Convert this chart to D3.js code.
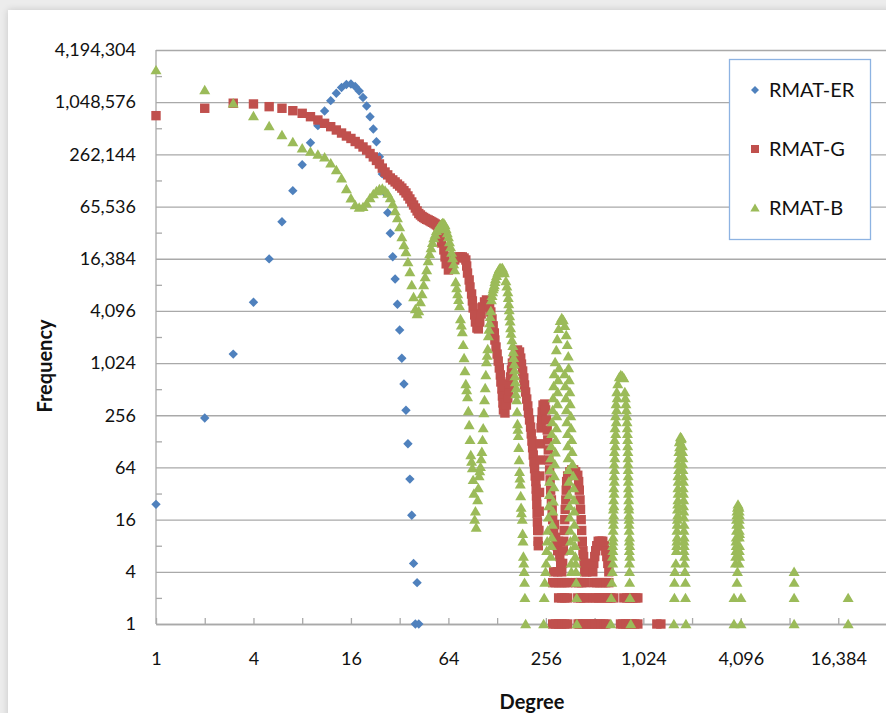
<!DOCTYPE html>
<html>
<head>
<meta charset="utf-8">
<script src="https://cdn.jsdelivr.net/npm/d3@7"></script>
<style>
  html, body { margin: 0; padding: 0; background: #ececec; overflow: hidden; }
  #card { position: absolute; left: 8px; top: 10px; width: 900px; height: 720px; background: #fff; box-shadow: 0 0 7px rgba(0,0,0,0.16); }
  svg { position: absolute; left: 0; top: 0; }
  text { font-family: Lato, "Open Sans", sans-serif; fill: #111; }
</style>
</head>
<body>
<div id="card"></div>
<svg id="chart" width="886" height="713"></svg>
<script>
// Tick labels (powers of 4 on both axes)
const xTickLabels = [1, 4, 16, 64, 256, 1024, 4096, 16384];
const yTickLabels = [1, 4, 16, 64, 256, 1024, 4096, 16384, 65536, 262144, 1048576, 4194304];
const xMinorTicks = [2, 8, 32, 128, 512, 2048, 8192, 32768];
const yMinorTicks = [2, 8, 32, 128, 512, 2048, 8192, 32768, 131072, 524288, 2097152];

// [degree, frequency]
const rmatER = [[1,24],[2,238],[3,1300],[4,5150],[5,16300],[6,43800],[7,100000],[8,199000],[9,357000],[10,562000],
  [11,830000],[12,1092000],[13,1328000],[14,1549000],[15,1678000],[16,1701000],[17,1592000],[18,1412000],[19,1188000],
  [20,948000],[21,713000],[22,515000],[23,367000],[24,246000],[25,156000],[26,94000],[27,55700],[28,32200],[29,17300],
  [30,9560],[31,4890],[32,2470],[33,1163],[34,588],[35,292],[36,120],[37,47],[38,18],[39,5],[40,1],[41,3],[42,1]];

const rmatG = [[1,733000],[2,892000],[3,1020000],[4,1000000],[5,931000],[6,892000],[7,836000],[8,780000],[9,713000],
  [10,653000],[11,598000],[12,547000],[13,501000],[14,462000],[15,427000],[16,400000],[17,369000],[18,345000],[19,319000],
  [20,294000],[21,268000],[22,245000],[23,223000],[24,203000],[25,182000],[26,164000],[27,152000],[28,140000],[29,133000],
  [30,126000],[31,119000],[32,113000],[33,107000],[34,100000],[35,94000],[36,86800],[37,80100],[38,74000],[39,68300],
  [40,63000],[41,58300],[42,54500],[43,52400],[44,50300],[45,49000],[46,47700],[47,46700],[48,45900],[49,45000],
  [50,44000],[51,43100],[52,42300],[53,41300],[54,40300],[55,39200],[56,38100],
  [57,30000],[58,24900],[60,20700],[61,17200],[62,14300],[64,12150],
  [66,12800],[68,14300],[70,15850],[72,16900],[74,17200],[76,17200],[78,17200],[80,16700],[82,15850],
  [83,13500],[84,11200],[86,9320],[87,7730],[89,6420],[90,5340],[91,4430],[93,3680],[94,3050],[96,2600],[98,2540],
  [100,3050],[102,3780],[104,4550],[107,5200],[110,5480],[113,5340],[115,4800],
  [117,3980],[119,3310],[121,2750],[123,2280],[124,1890],[126,1570],[128,1300],[130,1080],[132,900],[134,747],
  [135,620],[137,515],[138,427],[139,355],[140,295],[143,272],
  [146,336],[149,405],[151,488],[153,588],[155,708],[157,853],[159,1025],[163,1200],[166,1375],[171,1450],[176,1375],
  [179,1170],[181,998],[184,830],[187,690],[189,573],[192,475],[195,394],[198,328],[200,272],[203,226],[206,187],
  [208,156],[210,129],[212,108],[214,89],[216,74],[218,62],[220,51],[222,44],[223,36],[224,30],[225,24],[226,19],
  [227,15],[228,12],[229,9],[230,8],
  [232,12],[233,20],[234,33],[235,51],[236,78],[237,120],[239,183],[241,226],[243,280],[246,336],[252,345],
  [255,295],[258,226],[261,173],[263,133],[265,102],[267,78],[270,60],[272,46],[274,35],[277,27],[280,21],[282,16],
  [286,12],[290,14],[294,10],[298,8],[303,7],[307,9],[312,6],[316,5],[321,4],[325,5],
  [328,7],[330,9],[332,12],[335,16],[337,21],[340,27],[342,35],[344,44],[349,51],[360,57],[370,60],[380,60],[391,57],[403,52],
  [408,44],[412,35],[416,27],[419,21],[423,16],[426,12],[430,9],[434,7],[438,6],[441,5],[445,4],[452,5],[458,4],
  [499,4],[506,5],[513,6],[520,7],[528,8],[539,9],[551,9],[563,9],[575,9],[588,8],[600,7],[609,6],[618,5],[627,4],
  [286,4],[303,4],
  [282,3],[294,3],[307,3],[321,3],[335,3],[349,3],[391,3],[408,3],[426,3],[445,3],[506,3],[528,3],[551,3],[575,3],[600,3],[627,3],
  [307,2],[321,2],[335,2],[349,2],[403,2],[420,2],[439,2],[458,2],[499,2],[520,2],[543,2],[567,2],[592,2],[618,2],
  [645,2],[673,2],[776,2],[810,2],[845,2],[882,2],[920,2],[947,2],
  [282,1],[294,1],[307,1],[321,1],[335,1],[349,1],[405,1],[414,1],[432,1],[451,1],[471,1],[492,1],[513,1],
  [535,1],[559,1],[583,1],[600,1],[740,1],[765,1],[798,1],[833,1],[869,1],[907,1],[947,1],
  [1241,1],[1314,1]];

const rmatB = [[1,2460000],[2,1450000],[3,1020000],[4,727000],[5,557000],[6,439000],[7,364000],[8,308000],[9,282000],
  [10,261000],[11,243000],[12,207000],[13,173000],[14,139000],[15,104500],[16,81700],[17,68300],[18,63900],[19,64900],
  [20,71400],[21,82300],[22,91500],[23,99100],[24,104500],[25,105900],[26,100400],[27,92800],[28,82300],[29,70100],
  [30,58300],[31,48300],[32,38100],[33,29200],[34,23600],[35,19600],[36,15000],[37,11500],[38,8160],[39,5930],
  [40,4310],[41,3780],[42,4090],[43,5200],[44,6420],[45,8160],[46,10100],[47,12150],[48,15400],[49,18600],
  [50,21800],[51,25000],[52,28400],[53,31200],[54,34300],[55,36000],[56,38100],[57,40000],[58,41300],[59,42500],[60,42000],
  // first lobe, falling side
  [61,40000],[62,36100],[63,32500],[64,29200],[65,25600],[66,22400],[67,19300],[68,16700],[69,14200],[70,12150],
  [71,8840],[72,7500],[73,6420],[74,5500],[75,4670],[76,3310],[77,2800],[78,2340],[79,1660],[80,1170],[81,830],[82,588],
  [83,500],[84,416],[85,287],[86,198],[87,133],[88,89],[89,75],[90,63],[91,46],[92,32],[93,16],[94,20],[95,13],
  // second lobe
  [97,27],[98,37],[99,51],[100,58],[101,65],[102,80],[103,97],[104,133],[105,182],[106,272],[107,384],[108,528],
  [109,747],[110,1053],[111,1250],[112,1490],[113,2100],[114,2500],[115,2970],[116,3500],[117,4090],[118,5480],
  [119,6100],[120,6770],[121,7300],[122,7700],[123,8160],[124,8900],[125,9570],[127,10400],[129,11200],[130,11700],
  [132,12500],[133,12700],[135,12800],
  [138,12800],[140,12000],[142,11200],[145,9070],[147,7900],[149,6770],[150,5800],[151,4930],[152,4200],[153,3580],
  [154,3100],[155,2600],[156,2250],[158,1890],[160,1620],[161,1375],[162,1180],[163,998],[164,850],[165,727],
  [166,620],[167,450],[168,528],[169,384],[170,280],[171,203],[172,175],[173,148],[174,108],[175,78],[176,57],[177,48],
  [178,41],[179,30],[180,22],[181,19],[183,16],[184,11],[185,9],[186,6],[187,5],[188,4],[189,3],[190,2],[192,1],
  // third lobe
  [248,1],[250,2],[252,3],[255,4],[257,5],[259,7],[261,9],[263,12],[265,17],[267,23],[269,31],[270,44],[272,60],
  [274,82],[276,113],[278,156],[280,214],[282,295],[284,405],[286,557],[288,767],[292,1053],[297,1450],[301,1940],
  [307,2540],[314,3140],[321,3400],
  [275,6],[277,8],[279,10],[281,14],[283,20],[285,26],[287,38],[289,51],[291,70],[293,96],[295,133],[298,182],
  [299,251],[302,345],[303,475],[305,654],[309,900],
  [328,3220],[335,2750],[342,2160],[347,1660],[352,1230],[354,900],[357,654],[360,475],[362,345],[365,251],[367,182],
  [370,133],[372,97],[375,70],[378,51],[380,37],[382,27],[383,20],[384,14],[386,10],[387,8],[389,6],[391,5],[393,4],
  [394,3],[397,2],[398,1],
  [334,767],[337,557],[340,405],[343,295],[345,214],[348,156],[349,113],[351,82],[353,60],[355,44],[356,31],[358,23],
  [359,17],[361,12],[363,9],[364,7],[366,5],[368,4],
  // fourth lobe
  [645,1],[648,2],[654,3],[659,4],[663,5],[664,7],[665,9],[667,12],[668,16],[669,21],[671,27],[673,37],[675,51],
  [677,70],[679,97],[681,133],[685,182],[690,251],[695,345],[702,475],[712,588],[728,708],[743,747],
  [660,6],[662,8],[666,10],[670,14],[672,18],[674,23],[676,32],[678,44],[680,60],[683,82],[687,113],[692,156],
  [697,214],[700,295],[706,405],
  [760,727],[776,690],[787,475],[799,345],[808,251],[815,182],[819,133],[822,97],[824,70],[826,51],[828,37],[831,27],
  [834,21],[835,16],[837,12],[838,9],[839,7],[840,5],[841,4],[843,3],[846,2],[857,1],
  [793,405],[804,295],[812,214],[817,156],[820,113],[823,82],[825,60],[827,44],[829,32],[832,23],[833,18],[836,14],
  [842,10],[844,8],[845,6],
  // fifth lobe
  [1581,1],[1593,2],[1594,3],[1604,4],[1627,5],[1639,7],[1650,9],[1651,12],[1662,16],[1663,21],[1674,27],[1675,37],
  [1676,51],[1686,70],[1698,97],[1710,126],[1735,144],[1760,140],[1785,113],[1798,82],[1799,60],[1811,44],[1812,32],
  [1813,23],[1824,17],[1825,12],[1826,9],[1827,7],[1837,5],[1850,4],[1864,3],[1865,2],[1877,1],
  [1645,8],[1656,10],[1657,14],[1668,18],[1669,24],[1680,32],[1681,44],[1692,60],[1704,82],[1716,110],[1722,128],
  [1748,136],[1790,97],[1795,70],[1805,51],[1806,37],[1818,27],[1819,20],[1830,14],[1831,10],[1832,8],[1842,6],
  // sixth lobe
  [3717,1],[3718,2],[3797,5],[3824,7],[3825,9],[3852,12],[3853,16],[3879,3],[3880,20],[3907,4],[3935,24],[3992,22],
  [3993,5],[4020,18],[4021,14],[4022,11],[4023,8],[4024,6],[4107,2],[4108,1],
  [3810,6],[3838,8],[3839,10],[3866,14],[3867,18],[3905,22],[3960,23],[4005,20],[4008,16],[4009,12],[4010,10],[4011,7],
  // seventh and eighth lobes
  [8741,4],[8742,3],[8743,2],[8744,1],
  [18856,2],[18860,1]];

const seriesNames = ["RMAT-ER", "RMAT-G", "RMAT-B"];
const seriesColors = ["#4f81bd", "#c0504d", "#9bbb59"];

// marker shapes (Excel style)
const shapes = {
  diamond: "M0,-4.7L4.7,0L0,4.7L-4.7,0Z",
  square: "M-4.7,-4.7h9.4v9.4h-9.4Z",
  triangle: "M0,-5.2L5.5,4.2L-5.5,4.2Z"
};
const series = [
  { name: seriesNames[0], data: rmatER, color: seriesColors[0], shape: shapes.diamond },
  { name: seriesNames[1], data: rmatG, color: seriesColors[1], shape: shapes.square },
  { name: seriesNames[2], data: rmatB, color: seriesColors[2], shape: shapes.triangle }
];

const plot = { left: 156, top: 50, right: 887, bottom: 624 };
const svg = d3.select("#chart");

const x = d3.scaleLog().base(2).domain([1, 32768]).range([plot.left, plot.right]);
const y = d3.scaleLog().base(2).domain([1, 4194304]).range([plot.bottom, plot.top]);

const gridColor = "#a9a9a9";

// horizontal gridlines + y labels
const yAxis = svg.append("g")
  .attr("transform", `translate(${plot.left},0)`)
  .call(d3.axisLeft(y).tickValues(yTickLabels).tickFormat(d3.format(","))
    .tickSize(-(plot.right - plot.left)).tickSizeOuter(0).tickPadding(20));
yAxis.select(".domain").remove();
yAxis.selectAll("line").attr("stroke", gridColor).attr("stroke-width", 1.3);
yAxis.selectAll("text").style("font-size", "18px").attr("fill", "#111");

// y minor ticks (inside)
const yMinor = svg.append("g")
  .attr("transform", `translate(${plot.left},0)`)
  .call(d3.axisLeft(y).tickValues(yMinorTicks).tickFormat("").tickSize(-6).tickSizeOuter(0));
yMinor.select(".domain").remove();
yMinor.selectAll("line").attr("stroke", gridColor).attr("stroke-width", 1.3);

// x axis: ticks at every power of two, labels every power of four
const xAxis = svg.append("g")
  .attr("transform", `translate(0,${plot.bottom})`)
  .call(d3.axisBottom(x).tickValues(xTickLabels.concat(xMinorTicks))
    .tickFormat(d => xTickLabels.includes(d) ? d3.format(",")(d) : "")
    .tickSize(-6).tickSizeOuter(0).tickPadding(28));
xAxis.select(".domain").attr("stroke", gridColor).attr("stroke-width", 1.3);
xAxis.selectAll("line").attr("stroke", gridColor).attr("stroke-width", 1.3);
xAxis.selectAll("text").style("font-size", "18px").attr("fill", "#111");

// left axis line
svg.append("line")
  .attr("x1", plot.left).attr("x2", plot.left)
  .attr("y1", plot.top).attr("y2", plot.bottom)
  .attr("stroke", gridColor).attr("stroke-width", 1.3);

// points
series.forEach(s => {
  svg.append("g")
    .selectAll("path")
    .data(s.data)
    .enter()
    .append("path")
    .attr("d", s.shape)
    .attr("transform", d => `translate(${x(d[0])},${y(d[1])})`)
    .attr("fill", s.color);
});

// axis titles
svg.append("text")
  .attr("transform", "translate(52,366) rotate(-90)")
  .attr("text-anchor", "middle")
  .style("font-size", "20px").style("font-weight", "bold")
  .text("Frequency");

svg.append("text")
  .attr("x", 532).attr("y", 709)
  .attr("text-anchor", "middle")
  .style("font-size", "20px").style("font-weight", "bold")
  .text("Degree");

// legend
const legend = svg.append("g");
legend.append("rect")
  .attr("x", 729.5).attr("y", 59.5).attr("width", 141).attr("height", 180)
  .attr("fill", "#fff").attr("stroke", "#8db3e2").attr("stroke-width", 1.3);

const legendItems = legend.selectAll(".legend")
  .data(series)
  .enter()
  .append("g")
  .attr("class", "legend")
  .attr("transform", (d, i) => `translate(755, ${90 + i * 59})`);

legendItems.append("path")
  .attr("d", d => d.shape)
  .attr("transform", "scale(0.85)")
  .attr("fill", d => d.color);

legendItems.append("text")
  .attr("x", 14).attr("y", 0).attr("dy", "0.36em")
  .style("font-size", "20px")
  .text(d => d.name);
</script>
</body>
</html>
